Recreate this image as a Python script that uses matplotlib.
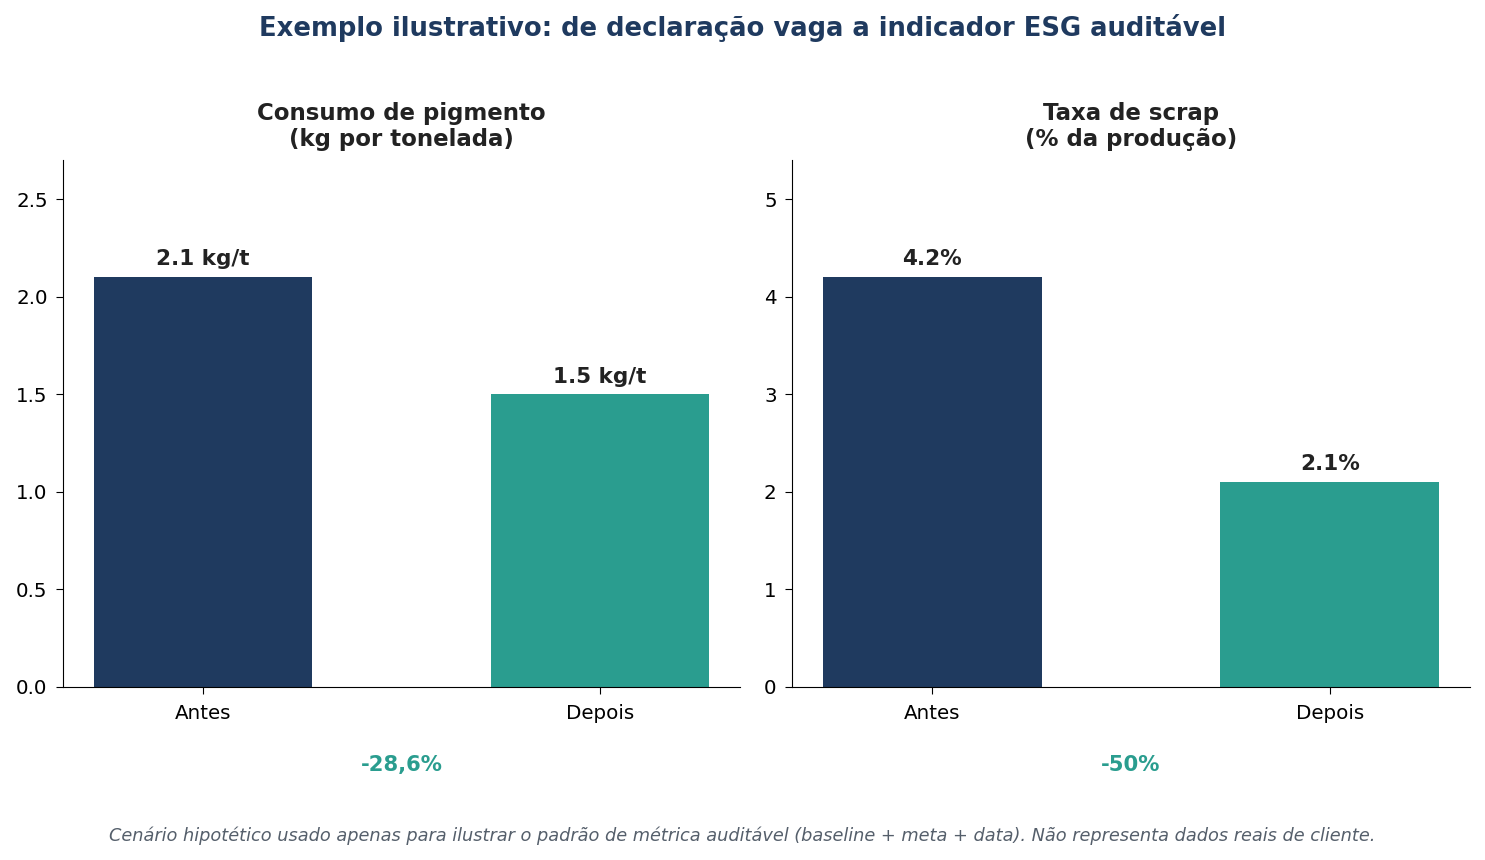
import matplotlib.pyplot as plt

# -----------------------------------------------------
# DATA
# -----------------------------------------------------
categories = ["Antes", "Depois"]
pigment_values = [2.1, 1.5]
scrap_values = [4.2, 2.1]
pigment_labels = ["2.1 kg/t", "1.5 kg/t"]
scrap_labels = ["4.2%", "2.1%"]
pigment_delta = "-28,6%"
scrap_delta = "-50%"

NAVY = "#1f3a5f"
TEAL = "#2a9d8f"
TEXT = "#222222"

fig = plt.figure(figsize=(14.85, 8.6), dpi=100)
W, H = 1485, 860

ax1 = fig.add_axes([63 / W, (H - 687) / H, 677 / W, 527 / H])
ax2 = fig.add_axes([792 / W, (H - 687) / H, 678 / W, 527 / H])

panels = [
    (ax1, pigment_values, pigment_labels, pigment_delta,
     "Consumo de pigmento\n(kg por tonelada)", 2.7),
    (ax2, scrap_values, scrap_labels, scrap_delta,
     "Taxa de scrap\n(% da produção)", 5.4),
]

for ax, vals, labels, delta, title, ymax in panels:
    bars = ax.bar(categories, vals, width=0.55, color=[NAVY, TEAL])
    for b, lab in zip(bars, labels):
        ax.annotate(lab, (b.get_x() + b.get_width() / 2, b.get_height()),
                    xytext=(0, 5.5), textcoords="offset points",
                    ha="center", va="bottom", fontsize=15.5, fontweight="bold",
                    color=TEXT)
    ax.set_ylim(0, ymax)
    ax.set_title(title, fontsize=16.5, fontweight="bold", color=TEXT, pad=10,
                 linespacing=1.15)
    ax.spines["top"].set_visible(False)
    ax.spines["right"].set_visible(False)
    ax.tick_params(labelsize=14.3, length=5)
    ax.tick_params(axis="x", pad=7)
    ax.tick_params(axis="y", pad=6)
    ax.text(0.5, -0.148, delta, transform=ax.transAxes, ha="center",
            va="center", fontsize=15.2, fontweight="bold", color=TEAL)

ax1.set_yticks([0.0, 0.5, 1.0, 1.5, 2.0, 2.5])
ax2.set_yticks([0, 1, 2, 3, 4, 5])

fig.text(0.5, 1 - 28 / H,
         "Exemplo ilustrativo: de declaração vaga a indicador ESG auditável",
         ha="center", va="center", fontsize=18.6, fontweight="bold", color=NAVY)
fig.text(0.5, 1 - 836 / H,
         "Cenário hipotético usado apenas para ilustrar o padrão de métrica auditável "
         "(baseline + meta + data). Não representa dados reais de cliente.",
         ha="center", va="center", fontsize=12.8, style="italic", color="#555f6b")

fig.savefig("out.png", dpi=100)
